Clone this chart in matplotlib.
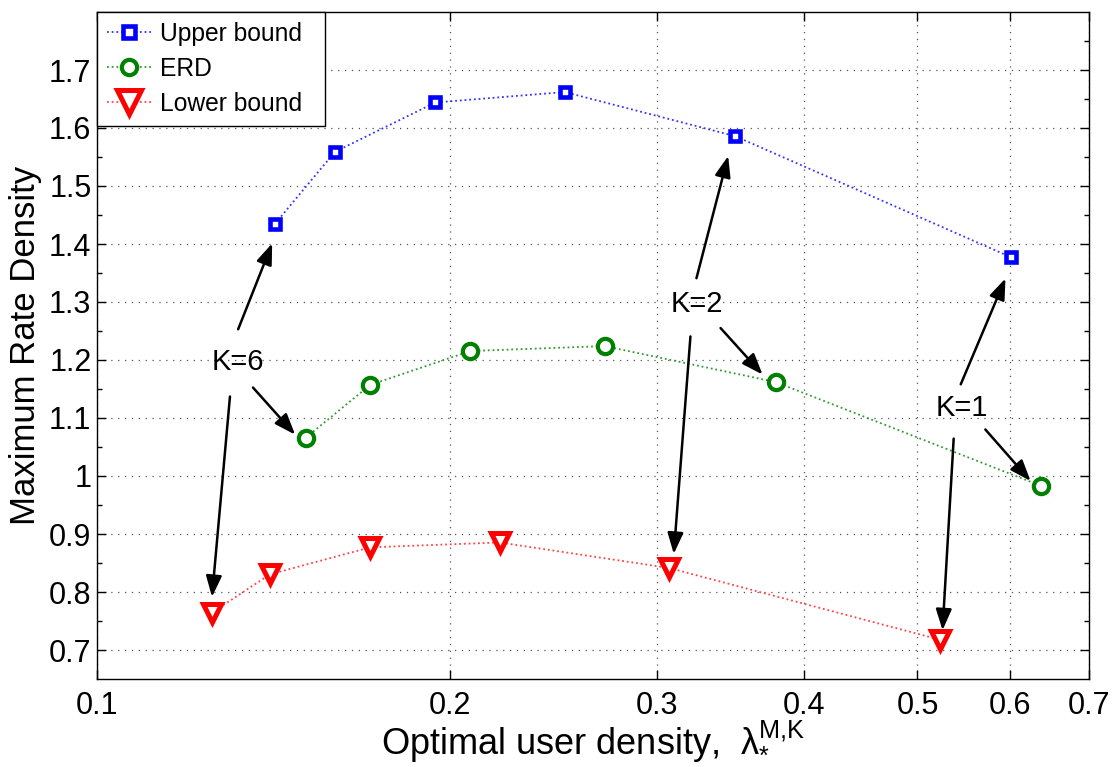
import matplotlib.pyplot as plt
from matplotlib.ticker import FixedLocator, FixedFormatter, NullLocator

plt.rcParams['font.family'] = ['Liberation Sans', 'DejaVu Sans']
plt.rcParams['mathtext.fontset'] = 'custom'
plt.rcParams['mathtext.rm'] = 'Liberation Sans'
plt.rcParams['mathtext.it'] = 'Liberation Sans'
plt.rcParams['mathtext.sf'] = 'Liberation Sans'

# values
upper_x = [0.1418, 0.1595, 0.1942, 0.2503, 0.3496, 0.601]
upper_y = [1.435, 1.559, 1.644, 1.662, 1.586, 1.377]
erd_x = [0.1506, 0.1709, 0.208, 0.2707, 0.3786, 0.637]
erd_y = [1.066, 1.157, 1.2155, 1.224, 1.162, 0.983]
lower_x = [0.1252, 0.1404, 0.1709, 0.2203, 0.307, 0.523]
lower_y = [0.764, 0.8305, 0.877, 0.8854, 0.8415, 0.7175]

xticks = [0.1, 0.2, 0.3, 0.4, 0.5, 0.6, 0.7]
xticklabels = ['0.1', '0.2', '0.3', '0.4', '0.5', '0.6', '0.7']
yticks = [0.7, 0.8, 0.9, 1.0, 1.1, 1.2, 1.3, 1.4, 1.5, 1.6, 1.7]
yticklabels = ['0.7', '0.8', '0.9', '1', '1.1', '1.2', '1.3', '1.4', '1.5', '1.6', '1.7']
yminor = [0.75, 0.85, 0.95, 1.05, 1.15, 1.25, 1.35, 1.45, 1.55, 1.65, 1.75]

# K labels: (text, text position, [(arrow tail, arrow tip), ...])
k_notes = [
    ('K=6', (0.1319, 1.197), [((0.1319, 1.253), (0.1410, 1.401)),
                              ((0.1358, 1.1525), (0.1475, 1.0713)),
                              ((0.1298, 1.137), (0.1253, 0.7915))]),
    ('K=2', (0.3245, 1.297), [((0.3241, 1.341), (0.3449, 1.5518)),
                              ((0.3398, 1.2551), (0.3690, 1.1749)),
                              ((0.3203, 1.2406), (0.3100, 0.8657))]),
    ('K=1', (0.5450, 1.117), [((0.5443, 1.1581), (0.5942, 1.3406)),
                              ((0.5712, 1.0802), (0.6242, 0.9914)),
                              ((0.5368, 1.0644), (0.5252, 0.7340))]),
]

fig = plt.figure(figsize=(11.15, 7.67), dpi=100)
ax = fig.add_axes([97 / 1115, 88 / 767, 992 / 1115, 667 / 767])

ls = (0, (1, 1.6))
ax.plot(upper_x, upper_y, linestyle=ls, lw=1.3, color='#3333ff', marker='s', ms=7.5,
        mew=3.3, mfc='white', mec='b', label='Upper bound  ')
ax.plot(erd_x, erd_y, linestyle=ls, lw=1.3, color='#339933', marker='o', ms=11,
        mew=3.0, mfc='white', mec='#008000', label='ERD')
ax.plot(lower_x, lower_y, linestyle=ls, lw=1.3, color='#ff4444', marker='v', ms=13,
        mew=3.6, mfc='white', mec='r', label='Lower bound')

ax.set_xscale('log')
ax.set_xlim(0.1, 0.7)
ax.set_ylim(0.65, 1.8)
ax.xaxis.set_major_locator(FixedLocator(xticks))
ax.xaxis.set_major_formatter(FixedFormatter(xticklabels))
ax.xaxis.set_minor_locator(NullLocator())
ax.yaxis.set_major_locator(FixedLocator(yticks))
ax.yaxis.set_major_formatter(FixedFormatter(yticklabels))
ax.yaxis.set_minor_locator(FixedLocator(yminor))

ax.tick_params(which='both', direction='in', top=True, right=True, width=1)
ax.tick_params(which='major', length=6.5, labelsize=22)
ax.tick_params(axis='x', which='major', pad=9)
ax.tick_params(axis='y', which='major', pad=4)
ax.tick_params(which='minor', length=3.6)
for s in ax.spines.values():
    s.set_linewidth(1.0)
ax.grid(True, which='major', linestyle=(0, (1, 4.5)), color='#555555', lw=0.9)

for label, pos, arrows in k_notes:
    ax.text(pos[0], pos[1], label, fontsize=21, ha='center', va='center')
    for tail, tip in arrows:
        ax.annotate('', xy=tip, xytext=tail,
                    arrowprops=dict(arrowstyle='-|>,head_length=0.8,head_width=0.3',
                                    color='k', lw=1.8, mutation_scale=16,
                                    shrinkA=0, shrinkB=0))

fig.text(593 / 1115, (767 - 753) / 767, r'Optimal user density,  λ$_{*}^{\mathrm{M{,}K}}$',
         fontsize=26, ha='center', va='baseline')
fig.text(26 / 1115, (767 - 345) / 767, 'Maximum Rate Density', fontsize=25,
         rotation=90, ha='center', va='center')

leg = ax.legend(loc='upper left', bbox_to_anchor=(0, 1), borderaxespad=0,
                fontsize=17.7, fancybox=False, framealpha=1, edgecolor='k',
                handlelength=1.8, handletextpad=0.35, labelspacing=0.45,
                borderpad=0.4)
leg.get_frame().set_linewidth(1.0)
leg.legend_handles[0].set_markersize(9)
leg.legend_handles[2].set_markersize(17)

fig.savefig('out.png', dpi=100)
